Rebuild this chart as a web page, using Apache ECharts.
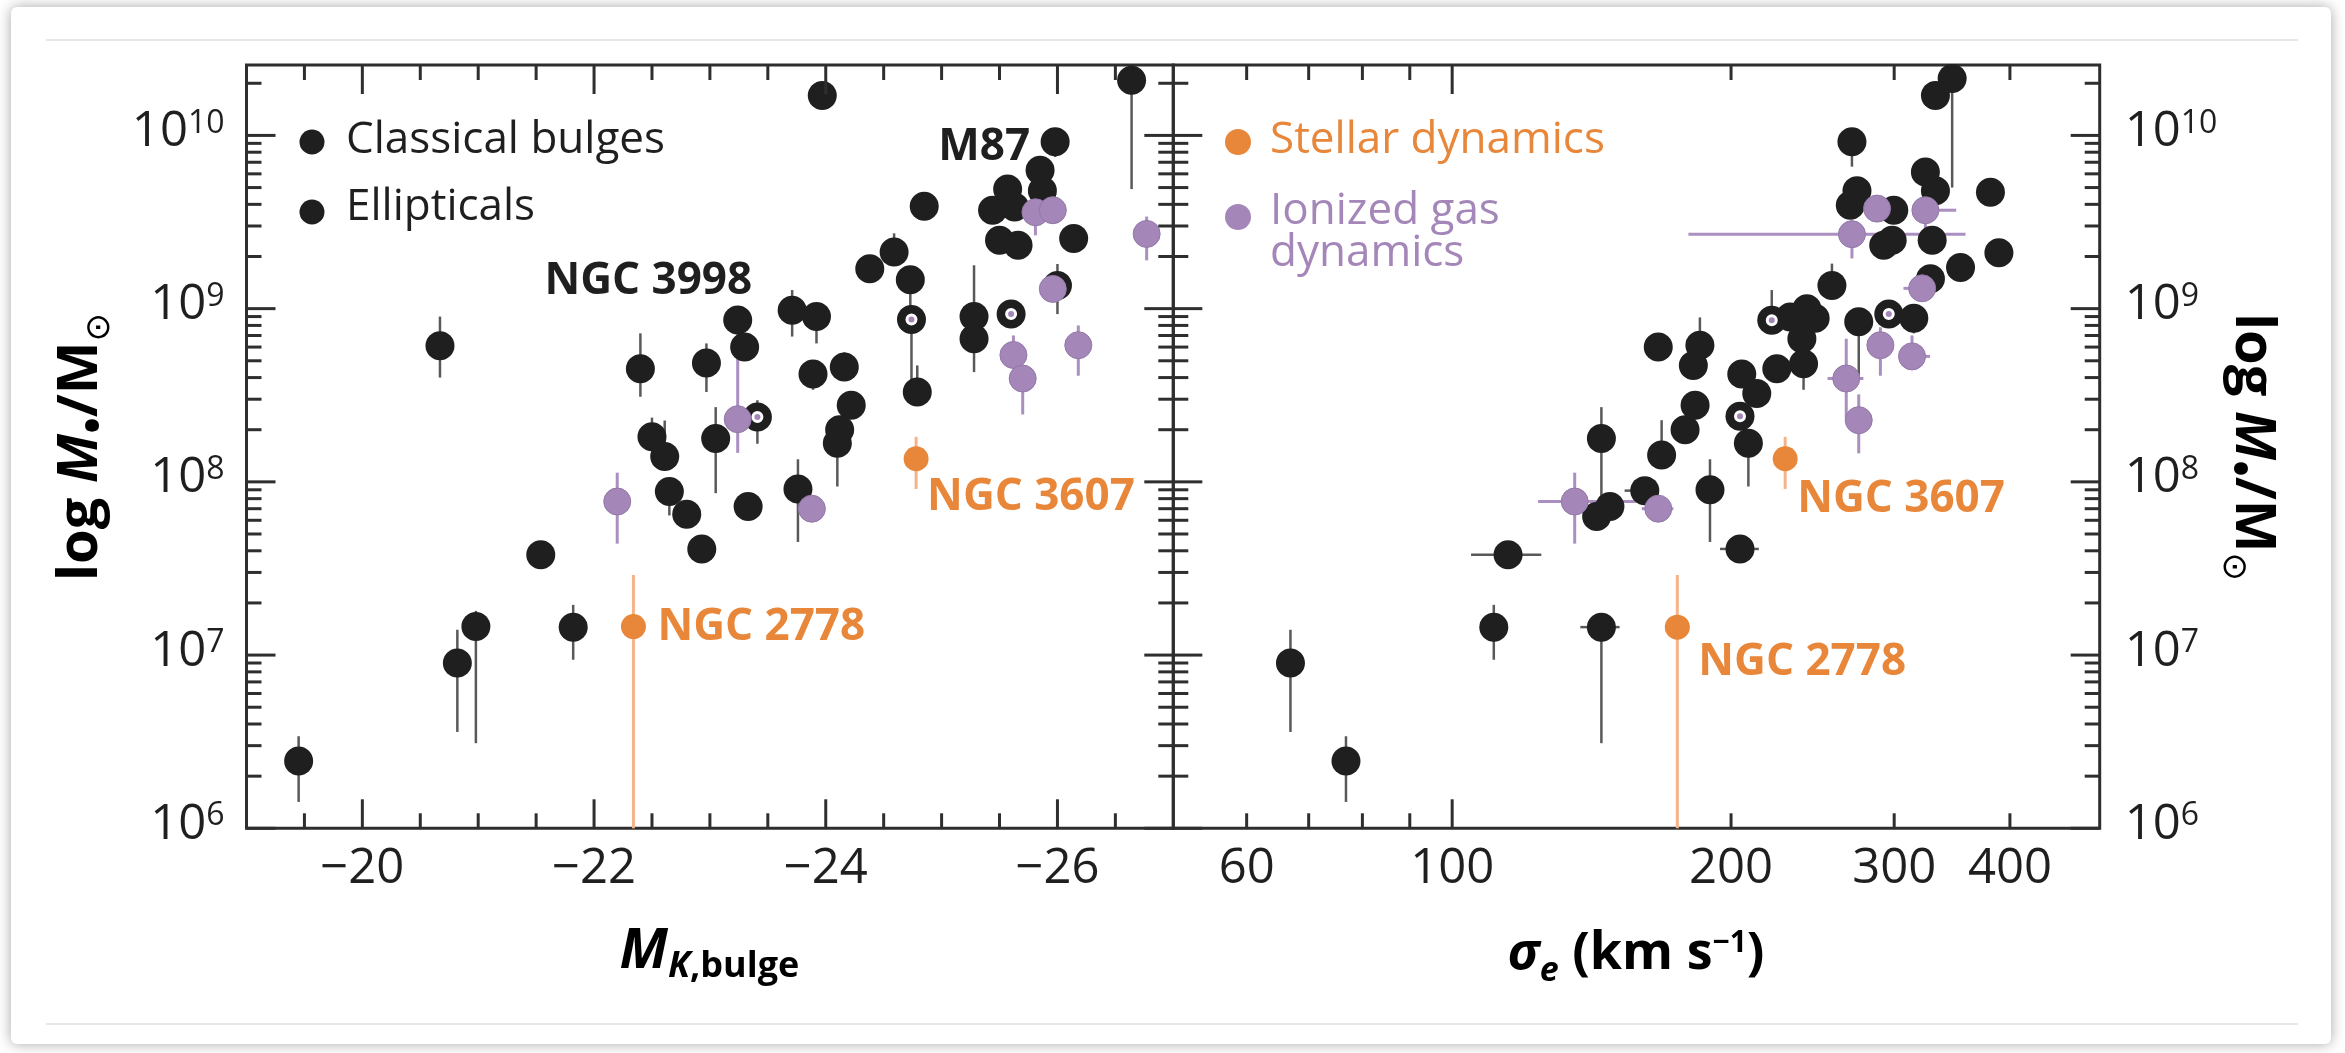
<!DOCTYPE html>
<html>
<head>
<meta charset="utf-8">
<script src="https://cdn.jsdelivr.net/npm/echarts@6/dist/echarts.min.js"></script>
<style>
  html, body { margin: 0; padding: 0; background: #ffffff; }
  #chart { width: 2345px; height: 1053px; }
</style>
</head>
<body>
<div id="chart"></div>
<script>
// ---- Left panel: K-band bulge magnitude vs. black-hole mass ----
// rows: [M_K, M_bh, M_bh lower, M_bh upper, tag]
const kBlack = [
  [-19.45, 2.45e6, 1.42e6, 3.4e6],
  [-20.67, 6.1e8, 4.0e8, 9.0e8],
  [-20.82, 9.0e6, 3.6e6, 1.4e7],
  [-20.98, 1.46e7, 3.1e6, 1.8e7],
  [-21.54, 3.8e7, null, null],
  [-21.82, 1.45e7, 9.4e6, 1.95e7],
  [-22.40, 4.5e8, 3.1e8, 7.2e8],
  [-22.50, 1.82e8, null, 2.35e8],
  [-22.61, 1.40e8, null, 2.26e8],
  [-22.65, 8.8e7, 6.4e7, null],
  [-22.80, 6.5e7, null, null],
  [-22.93, 4.1e7, null, null],
  [-22.97, 4.85e8, 3.3e8, 6.3e8],
  [-23.05, 1.78e8, 8.6e7, 2.7e8],
  [-23.24, 8.6e8, null, null],
  [-23.30, 6.0e8, null, null],
  [-23.33, 7.2e7, null, null],
  [-23.71, 9.8e8, 6.9e8, 1.28e9, 'NGC 3998'],
  [-23.76, 9.1e7, 4.5e7, 1.35e8],
  [-23.89, 4.2e8, 3.4e8, null],
  [-23.92, 9.0e8, 6.3e8, null],
  [-23.97, 1.70e10, null, null],
  [-24.10, 1.67e8, 9.4e7, null],
  [-24.12, 2.0e8, null, null],
  [-24.16, 4.6e8, 3.9e8, 5.6e8],
  [-24.22, 2.77e8, null, null],
  [-24.38, 1.70e9, null, null],
  [-24.59, 2.12e9, null, 2.72e9],
  [-24.73, 1.47e9, 1.02e9, null],
  [-24.79, 3.3e8, null, 4.7e8],
  [-24.85, 3.9e9, null, null],
  [-25.28, 9.0e8, 4.3e8, 1.78e9],
  [-25.28, 6.7e8, null, null],
  [-25.44, 3.7e9, null, null],
  [-25.50, 2.48e9, null, null],
  [-25.57, 4.9e9, null, null],
  [-25.63, 3.86e9, null, null],
  [-25.66, 2.32e9, null, null],
  [-25.85, 6.3e9, null, null],
  [-25.87, 4.8e9, null, null],
  [-25.98, 9.2e9, 7.5e9, null, 'M87'],
  [-26.00, 1.36e9, 9.3e8, 1.81e9],
  [-26.14, 2.54e9, null, null],
  [-26.64, 2.08e10, 4.9e9, null]
];
const kRing = [
  [-23.41, 2.37e8, 1.66e8, 2.96e8],
  [-24.74, 8.65e8, 3.4e8, null],
  [-25.60, 9.3e8, null, null]
];
const kGas = [
  [-22.20, 7.7e7, 4.4e7, 1.13e8],
  [-23.24, 2.3e8, 1.47e8, 8.6e8],
  [-23.88, 7.0e7, null, null],
  [-25.62, 5.4e8, null, 7.0e8],
  [-25.70, 3.95e8, 2.45e8, null],
  [-25.81, 3.6e9, 2.65e9, 6.15e9],
  [-25.96, 3.7e9, null, null],
  [-25.96, 1.30e9, null, null],
  [-26.18, 6.15e8, 4.1e8, 8.0e8],
  [-26.77, 2.7e9, 1.9e9, 3.4e9]
];
const kStellar = [
  [-22.34, 1.46e7, 1.0e6, 2.9e7, 'NGC 2778'],
  [-24.78, 1.36e8, 9.1e7, 1.82e8, 'NGC 3607']
];

// ---- Right panel: velocity dispersion vs. black-hole mass ----
// rows: [sigma_e, M_bh, M_bh lower, M_bh upper, sigma lower, sigma upper, tag]
const sBlack = [
  [66.9, 9.0e6, 3.6e6, 1.4e7, 64.6, 69.3],
  [76.8, 2.45e6, 1.42e6, 3.4e6, null, null],
  [110.9, 1.45e7, 9.4e6, 1.95e7, null, null],
  [114.9, 3.8e7, null, null, 104.8, 124.8],
  [143.2, 6.3e7, null, null, null, null],
  [144.9, 1.78e8, 7.2e7, 2.7e8, null, null],
  [144.9, 1.45e7, 3.1e6, null, 137.5, 151.6],
  [148.0, 7.2e7, null, null, null, null],
  [161.4, 8.9e7, null, null, 153.5, null],
  [166.9, 6.0e8, null, null, null, null],
  [168.3, 1.43e8, null, 2.27e8, null, null],
  [178.4, 2.0e8, null, 2.4e8, null, null],
  [182.1, 4.7e8, null, null, null, null],
  [182.9, 2.77e8, null, null, null, null],
  [185.1, 6.15e8, null, 8.9e8, null, null],
  [189.8, 9.0e7, 4.5e7, 1.35e8, null, null],
  [204.5, 4.1e7, null, null, 194.6, 214.3],
  [205.4, 4.2e8, null, null, null, null],
  [208.8, 1.67e8, 9.4e7, null, null, null],
  [213.2, 3.24e8, null, null, null, null],
  [224.1, 4.5e8, null, null, null, null],
  [231.7, 8.95e8, null, null, null, null],
  [238.5, 6.7e8, null, null, null, null],
  [239.5, 4.8e8, 3.4e8, null, null, null],
  [241.5, 1.0e9, null, null, null, null],
  [246.5, 8.8e8, null, null, null, null],
  [257.0, 1.36e9, null, 1.82e9, null, null],
  [269.0, 3.95e9, null, null, null, null],
  [270.1, 9.2e9, 6.6e9, null, null, null],
  [273.5, 4.8e9, null, null, null, null],
  [274.7, 8.4e8, 4.1e8, null, null, null],
  [292.3, 2.32e9, null, null, null, null],
  [298.5, 2.48e9, null, null, null, null],
  [299.7, 3.7e9, null, null, null, null],
  [315.0, 8.8e8, 7.2e8, null, null, null],
  [324.2, 6.15e9, null, null, null, null],
  [328.3, 1.49e9, null, null, null, null],
  [329.7, 2.48e9, null, null, null, null],
  [332.4, 4.8e9, null, null, null, null],
  [332.4, 1.70e10, null, null, 322, null],
  [346.5, 2.13e10, 5.0e9, null, null, null],
  [353.8, 1.73e9, null, null, null, null],
  [381.1, 4.7e9, null, null, null, null],
  [389.2, 2.1e9, null, null, null, null]
];
const sRing = [
  [204.5, 2.39e8, null, null, 198, 211],
  [221.3, 8.57e8, null, 1.28e9, null, null],
  [296.0, 9.3e8, null, null, null, null]
];
const sGas = [
  [135.6, 7.7e7, 4.4e7, 1.13e8, 123.8, 160.2],
  [166.9, 7.0e7, null, null, 160.2, 173.3],
  [266.3, 3.95e8, 2.33e8, 6.7e8, 254.2, 277.9],
  [270.1, 2.69e9, 1.95e9, 3.24e9, 179.9, 358.2],
  [274.7, 2.27e8, 1.46e8, 3.2e8, null, null],
  [287.5, 3.78e9, null, null, 278, 297],
  [289.9, 6.15e8, 4.1e8, 7.8e8, 281, 299],
  [313.6, 5.3e8, null, 7.0e8, 304.6, 328],
  [321.6, 1.31e9, null, null, 307, null],
  [324.2, 3.7e9, 2.66e9, 6.15e9, null, 350]
];
const sStellar = [
  [175.0, 1.45e7, 1.0e6, 2.9e7, null, null, 'NGC 2778'],
  [228.8, 1.36e8, 9.1e7, 1.82e8, null, null, 'NGC 3607']
];

// ---- Axis ticks and labels ----
const massDecades = [1e6, 1e7, 1e8, 1e9, 1e10];
const massSteps = [2, 3, 4, 5, 6, 7, 8, 9];
const massRange = [1e6, 2.55e10];
const magRange = [-27, -19];
const magMajor = [-20, -22, -24, -26];
const magMinor = [-19.5, -20.5, -21, -21.5, -22.5, -23, -23.5, -24.5, -25, -25.5, -26.5];
const sigmaRange = [50, 500];
const sigmaMajor = [100];
const sigmaMinor = [60, 70, 80, 90, 200, 300, 400];
const sigmaLabels = [60, 100, 200, 300, 400];

// ---- Styling ----
const FONT = '"Open Sans", "DejaVu Sans", sans-serif';
const INK = '#1f1f1f';
const FRAME = '#2e2e2e';
const GAS = '#a486b9';
const STAR = '#e8873a';
const ERR_INK = '#595959';
const ERR_GAS = '#ab8fc0';
const ERR_STAR = '#f4b389';
const MAJOR_LEN = 29, MINOR_LEN = 15;

const massMinor = [];
massDecades.forEach(d => massSteps.forEach(m => {
  const v = d * m;
  if (v < massRange[1]) massMinor.push(v);
}));

// tag label placement, measured from the point centre
const kTags = {
  'NGC 3998': { dx: -40, dy: -29, align: 'right', color: INK },
  'M87': { dx: -25, dy: 6, align: 'right', color: INK },
  'NGC 2778': { dx: 24, dy: 1, align: 'left', color: STAR },
  'NGC 3607': { dx: 11, dy: 39, align: 'left', color: STAR }
};
const sTags = {
  'NGC 2778': { dx: 21, dy: 35, align: 'left', color: STAR },
  'NGC 3607': { dx: 12, dy: 41, align: 'left', color: STAR }
};

function points(rows, tagCol, tags, size) {
  return rows.map(r => {
    const item = { value: [r[0], r[1]] };
    const tag = r[tagCol];
    if (tag && tags[tag]) {
      const t = tags[tag];
      item.name = tag;
      item.label = {
        show: true, formatter: tag,
        position: [t.dx + size / 2, t.dy + size / 2],
        align: t.align, verticalAlign: 'middle',
        color: t.color, fontSize: 44, fontWeight: 'bold', fontFamily: FONT
      };
    }
    return item;
  });
}

function scatter(grid, rows, tagCol, tags, size, style, z) {
  return {
    type: 'scatter', xAxisIndex: grid, yAxisIndex: grid, z: z, silent: true,
    symbol: 'circle', symbolSize: size,
    itemStyle: style,
    data: points(rows, tagCol, tags, size)
  };
}

// vertical (and horizontal) error bars; row layout decides which columns are used
function errorBars(grid, rows, color, width, xCols) {
  return {
    type: 'custom', xAxisIndex: grid, yAxisIndex: grid, z: 2, silent: true,
    data: rows.map(r => [r[0], r[1]]),
    renderItem(params, api) {
      const r = rows[params.dataIndex];
      const c = api.coord([r[0], r[1]]);
      const kids = [];
      const seg = (x1, y1, x2, y2) => kids.push({
        type: 'line', shape: { x1, y1, x2, y2 },
        style: { stroke: color, lineWidth: width }
      });
      if (r[2] != null) seg(c[0], c[1], c[0], api.coord([r[0], r[2]])[1]);
      if (r[3] != null) seg(c[0], c[1], c[0], api.coord([r[0], r[3]])[1]);
      if (xCols) {
        if (r[4] != null) seg(c[0], c[1], api.coord([r[4], r[1]])[0], c[1]);
        if (r[5] != null) seg(c[0], c[1], api.coord([r[5], r[1]])[0], c[1]);
      }
      return { type: 'group', children: kids };
    }
  };
}

// inward ticks on all four sides of a panel, plus optional x labels
function axisDecor(grid, xMajor, xMinor, xRef, yRef, xLabels) {
  return {
    type: 'custom', xAxisIndex: grid, yAxisIndex: grid, z: 8, silent: true,
    data: [[xRef, yRef]],
    renderItem(params, api) {
      const cs = params.coordSys;
      const L = cs.x, R = cs.x + cs.width, T = cs.y, B = cs.y + cs.height;
      const kids = [];
      const seg = (x1, y1, x2, y2) => kids.push({
        type: 'line', shape: { x1, y1, x2, y2 },
        style: { stroke: FRAME, lineWidth: 3 }
      });
      const px = v => api.coord([v, yRef])[0];
      const py = v => api.coord([xRef, v])[1];
      xMajor.forEach(v => { const x = px(v); seg(x, B, x, B - MAJOR_LEN); seg(x, T, x, T + MAJOR_LEN); });
      xMinor.forEach(v => { const x = px(v); seg(x, B, x, B - MINOR_LEN); seg(x, T, x, T + MINOR_LEN); });
      massDecades.forEach(v => { const y = py(v); seg(L, y, L + MAJOR_LEN, y); seg(R, y, R - MAJOR_LEN, y); });
      massMinor.forEach(v => { const y = py(v); seg(L, y, L + MINOR_LEN, y); seg(R, y, R - MINOR_LEN, y); });
      (xLabels || []).forEach(v => kids.push({
        type: 'text', x: px(v), y: B + 16,
        style: { text: String(v), fontSize: 49, fontFamily: FONT, fill: INK, align: 'center', verticalAlign: 'top' }
      }));
      return { type: 'group', children: kids };
    }
  };
}

function powerLabel(v) {
  const e = Math.log10(v);
  const n = Math.round(e);
  if (Math.abs(e - n) > 1e-6) return '';
  return '{b|10}{s|' + n + '}';
}
const powerRich = {
  b: { fontFamily: FONT, fontSize: 49, lineHeight: 56, verticalAlign: 'top', color: INK },
  s: { fontFamily: FONT, fontSize: 32, lineHeight: 38, verticalAlign: 'top', color: INK }
};

const massAxis = (grid, pos, margin) => ({
  gridIndex: grid, type: 'log', logBase: 10, min: massRange[0], max: massRange[1], position: pos,
  axisLine: { show: false }, axisTick: { show: false }, splitLine: { show: false },
  axisLabel: { margin: margin, formatter: powerLabel, rich: powerRich, showMinLabel: true, showMaxLabel: true }
});

const blackStyle = { color: INK, opacity: 1 };
const gasStyle = { color: GAS, borderColor: '#9278a6', borderWidth: 1, opacity: 1 };
const starStyle = { color: STAR, opacity: 1 };
const coreStyle = { color: GAS, borderColor: '#ffffff', borderWidth: 3, opacity: 1 };

const titleRich = {
  t: { fontFamily: FONT, fontSize: 56, fontWeight: 'bold', lineHeight: 64, verticalAlign: 'top', color: INK },
  m: { fontFamily: FONT, fontSize: 56, fontWeight: 'bold', fontStyle: 'italic', lineHeight: 64, verticalAlign: 'top', color: INK },
  d: { fontFamily: FONT, fontSize: 44, fontWeight: 'bold', lineHeight: 34, verticalAlign: 'bottom', color: INK },
  o: { fontFamily: '"DejaVu Sans", sans-serif', fontSize: 34, lineHeight: 36, verticalAlign: 'bottom', color: INK }
};
const massTitle = '{t|log }{m|M}{d|\u2022}{t|/M}{o|\u2299}';

const option = {
  animation: false,
  backgroundColor: '#ffffff',
  grid: [
    { left: 246.5, top: 65, width: 926.8, height: 763.3, show: true, borderColor: FRAME, borderWidth: 3, backgroundColor: 'transparent' },
    { left: 1173.3, top: 65, width: 926.4, height: 763.3, show: true, borderColor: FRAME, borderWidth: 3, backgroundColor: 'transparent' }
  ],
  xAxis: [
    {
      gridIndex: 0, type: 'value', min: magRange[0], max: magRange[1], interval: 1, inverse: true,
      axisLine: { show: false }, axisTick: { show: false }, splitLine: { show: false },
      axisLabel: {
        margin: 16, fontSize: 49, fontFamily: FONT, color: INK,
        formatter: v => (magMajor.indexOf(v) >= 0 ? '\u2212' + Math.abs(v) : '')
      }
    },
    {
      gridIndex: 1, type: 'log', logBase: 10, min: sigmaRange[0], max: sigmaRange[1],
      axisLine: { show: false }, axisTick: { show: false }, splitLine: { show: false },
      axisLabel: { show: false }
    }
  ],
  yAxis: [massAxis(0, 'left', 22), massAxis(1, 'right', 25)],
  series: [
    axisDecor(0, magMajor, magMinor, -23, 1e8, null),
    axisDecor(1, sigmaMajor, sigmaMinor, 100, 1e8, sigmaLabels),

    errorBars(0, kBlack, ERR_INK, 2.5, false),
    errorBars(0, kRing, ERR_INK, 2.5, false),
    errorBars(0, kGas, ERR_GAS, 3, false),
    errorBars(0, kStellar, ERR_STAR, 3, false),
    errorBars(1, sBlack, ERR_INK, 2.5, true),
    errorBars(1, sRing, ERR_INK, 2.5, true),
    errorBars(1, sGas, ERR_GAS, 3, true),
    errorBars(1, sStellar, ERR_STAR, 3, true),

    scatter(0, kBlack, 4, kTags, 29, blackStyle, 3),
    scatter(0, kRing, 4, kTags, 29, blackStyle, 3),
    scatter(0, kRing, 4, kTags, 9, coreStyle, 4),
    scatter(0, kGas, 4, kTags, 27, gasStyle, 5),
    scatter(0, kStellar, 4, kTags, 25, starStyle, 6),
    scatter(1, sBlack, 6, sTags, 29, blackStyle, 3),
    scatter(1, sRing, 6, sTags, 29, blackStyle, 3),
    scatter(1, sRing, 6, sTags, 9, coreStyle, 4),
    scatter(1, sGas, 6, sTags, 27, gasStyle, 5),
    scatter(1, sStellar, 6, sTags, 25, starStyle, 6)
  ],
  graphic: [
    // page card with soft shadow
    { type: 'rect', z: -10, silent: true,
      shape: { x: 11, y: 7, width: 2320, height: 1037, r: 6 },
      style: { fill: '#ffffff', shadowBlur: 14, shadowColor: 'rgba(0,0,0,0.35)' } },
    { type: 'line', z: -9, silent: true, shape: { x1: 46, y1: 40, x2: 2298, y2: 40 }, style: { stroke: '#e6e6e6', lineWidth: 2 } },
    { type: 'line', z: -9, silent: true, shape: { x1: 46, y1: 1024, x2: 2298, y2: 1024 }, style: { stroke: '#e6e6e6', lineWidth: 2 } },

    // left legend
    { type: 'circle', silent: true, shape: { cx: 312, cy: 142, r: 12.5 }, style: { fill: INK } },
    { type: 'text', silent: true, x: 346, y: 140,
      style: { text: 'Classical bulges', fontSize: 44, fontFamily: FONT, fill: INK, align: 'left', verticalAlign: 'middle' } },
    { type: 'circle', silent: true, shape: { cx: 312, cy: 212, r: 12.5 }, style: { fill: INK } },
    { type: 'text', silent: true, x: 346, y: 207,
      style: { text: 'Ellipticals', fontSize: 44, fontFamily: FONT, fill: INK, align: 'left', verticalAlign: 'middle' } },

    // right legend
    { type: 'circle', silent: true, shape: { cx: 1238, cy: 142, r: 13 }, style: { fill: STAR } },
    { type: 'text', silent: true, x: 1270, y: 140,
      style: { text: 'Stellar dynamics', fontSize: 44, fontFamily: FONT, fill: STAR, align: 'left', verticalAlign: 'middle' } },
    { type: 'circle', silent: true, shape: { cx: 1238, cy: 217, r: 13 }, style: { fill: GAS } },
    { type: 'text', silent: true, x: 1270, y: 190.5,
      style: { text: 'Ionized gas\ndynamics', fontSize: 44, lineHeight: 42, fontFamily: FONT, fill: GAS, align: 'left', verticalAlign: 'top' } },

    // axis titles
    { type: 'text', silent: true, x: 709.5, y: 955,
      style: {
        text: '{m|M}{k|K}{b|,bulge}', align: 'center', verticalAlign: 'middle',
        rich: {
          m: { fontFamily: FONT, fontSize: 55, fontWeight: 'bold', fontStyle: 'italic', lineHeight: 60, verticalAlign: 'top', color: INK },
          k: { fontFamily: FONT, fontSize: 36, fontWeight: 'bold', fontStyle: 'italic', lineHeight: 18, verticalAlign: 'bottom', color: INK },
          b: { fontFamily: FONT, fontSize: 36, fontWeight: 'bold', lineHeight: 18, verticalAlign: 'bottom', color: INK }
        }
      } },
    { type: 'text', silent: true, x: 1636, y: 958,
      style: {
        text: '{s|\u03c3}{e|e}{t| (km s}{u|\u22121}{t|)}', align: 'center', verticalAlign: 'middle',
        rich: {
          s: { fontFamily: FONT, fontSize: 52, fontWeight: 'bold', fontStyle: 'italic', lineHeight: 60, verticalAlign: 'top', color: INK },
          e: { fontFamily: FONT, fontSize: 34, fontWeight: 'bold', fontStyle: 'italic', lineHeight: 20, verticalAlign: 'bottom', color: INK },
          t: { fontFamily: FONT, fontSize: 52, fontWeight: 'bold', lineHeight: 60, verticalAlign: 'top', color: INK },
          u: { fontFamily: FONT, fontSize: 30, fontWeight: 'bold', lineHeight: 34, verticalAlign: 'top', color: INK }
        }
      } },
    { type: 'text', silent: true, x: 85, y: 447, rotation: Math.PI / 2,
      style: { text: massTitle, rich: titleRich, align: 'center', verticalAlign: 'middle' } },
    { type: 'text', silent: true, x: 2248, y: 447, rotation: -Math.PI / 2,
      style: { text: massTitle, rich: titleRich, align: 'center', verticalAlign: 'middle' } }
  ]
};

const chart = echarts.init(document.getElementById('chart'), null, { renderer: 'canvas', width: 2345, height: 1053 });
chart.setOption(option);
</script>
</body>
</html>
